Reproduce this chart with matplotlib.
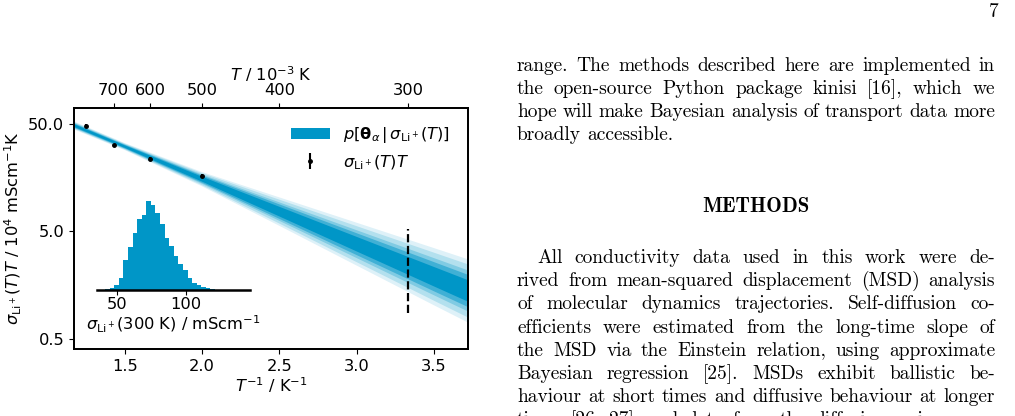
import numpy as np
import matplotlib
matplotlib.use("Agg")
import matplotlib.pyplot as plt
from matplotlib.transforms import IdentityTransform
from matplotlib.colors import to_rgb

W, H = 1015, 416

# measured sigma*T at 800, 700, 600, 500 K (units of 1e4 mS cm^-1 K)
temps = [800, 700, 600, 500]
sigma_T = [47.9, 31.6, 23.6, 16.3]
sigma_T_err = [1.6, 1.3, 0.9, 0.7]

# posterior band, read at a few 1/T positions (1e-3 K^-1)
band_x = [1.17, 1.5, 2.0, 2.5, 3.0, 3.5, 3.72]
band_mid = [48.9, 31.0, 15.4, 7.68, 3.82, 1.90, 1.40]
band_spread = [1.089, 1.079, 1.167, 1.358, 1.585, 1.849, 1.972]  # outer interval factor
band_levels = [1.0, 0.84, 0.65, 0.51, 0.34]
band_alpha = [0.13, 0.3, 0.5, 0.75, 1.0]

# extrapolated range at 300 K
pred_T = 300
pred_range = [0.87, 5.3]

top_T = [700, 600, 500, 400, 300]

# histogram of sigma(300 K), mS cm^-1
hist_counts = [3, 6, 15, 36, 90, 128, 172, 213, 224, 268, 255, 230,
               198, 156, 131, 100, 78, 58, 36, 20, 15, 9, 5, 3]
hist_edges = np.linspace(41.6, 120.8, len(hist_counts) + 1)

blue = '#0096c7'

plt.rcParams['font.size'] = 11.7
plt.rcParams['axes.linewidth'] = 1.3

fig = plt.figure(figsize=(W / 100, H / 100), dpi=100)

ax = fig.add_axes([74 / W, 1 - 349 / H, (468 - 74) / W, (349 - 108) / H])

base = to_rgb(blue)
bx = np.array(band_x)
mid = np.array(band_mid)
spread = np.array(band_spread)
band_handle = None
for lev, a in zip(band_levels, band_alpha):
    f = spread ** lev
    col = tuple(1 - a * (1 - c) for c in base)
    band_handle = ax.fill_between(bx, mid / f, mid * f, color=col, lw=0)
band_handle.set_label(r'$p[\mathbf{\theta}_\alpha\,|\,\sigma_{\mathrm{Li}^+}(T)]$')

eb = ax.errorbar(1000 / np.array(temps), sigma_T, yerr=sigma_T_err, fmt='o',
                 ms=2.5, color='k', elinewidth=1.5, capsize=0,
                 label=r'$\sigma_{\mathrm{Li}^+}(T)T$')
ax.vlines(1000 / pred_T, pred_range[0], pred_range[1], colors='k',
          linestyles='--', lw=1.6)

ax.set_yscale('log')
ax.set_xlim(1.172, 3.72)
ax.set_ylim(0.40, 70.5)
ax.set_yticks([0.5, 5, 50])
ax.set_yticklabels(['0.5', '5.0', '50.0'])
ax.yaxis.set_minor_locator(matplotlib.ticker.NullLocator())
ax.set_xticks([1.5, 2.0, 2.5, 3.0, 3.5])
ax.set_xticklabels(['1.5', '2.0', '2.5', '3.0', '3.5'])
ax.set_xlabel(r'$T^{-1}$ / K$^{-1}$', labelpad=1)
ax.set_ylabel(r'$\sigma_{\mathrm{Li}^+}(T)T$ / 10$^4$ mScm$^{-1}$K', labelpad=3)

ax.legend(handles=[band_handle, eb], loc='upper right', frameon=False,
          handlelength=2.4, bbox_to_anchor=(0.99, 0.99))

ax2 = ax.twiny()
ax2.set_xlim(ax.get_xlim())
ax2.set_xticks(1000 / np.array(top_T))
ax2.set_xticklabels([str(t) for t in top_T])
ax2.set_xlabel(r'$T$ / 10$^{-3}$ K', labelpad=2)

# inset histogram
ax_in = fig.add_axes([96.7 / W, 1 - 289.7 / H, (250 - 96.7) / W, 93 / H])
ax_in.patch.set_visible(False)
ax_in.bar(hist_edges[:-1], hist_counts, width=np.diff(hist_edges), align='edge',
          color=blue, lw=0)
for s in ['top', 'left', 'right']:
    ax_in.spines[s].set_visible(False)
ax_in.spines['bottom'].set_linewidth(1.8)
ax_in.set_yticks([])
ax_in.set_xlim(35.6, 146)
ax_in.set_ylim(0, 280)
ax_in.set_xticks([50, 100])
ax_in.tick_params(pad=2)
ax_in.set_xlabel(r'$\sigma_{\mathrm{Li}^+}$(300 K) / mScm$^{-1}$', labelpad=1)

# right-hand page text
col_left, col_right = 517, 995
body = dict(family=['cmr10', 'DejaVu Serif'], size=14)
renderer = fig.canvas.get_renderer()


def text_line(line, y, indent=0, justify=True, **kw):
    words = line.split()
    arts = [fig.text(0, 0, w, transform=IdentityTransform(), ha='left',
                     va='baseline', **kw) for w in words]
    widths = [t.get_window_extent(renderer).width for t in arts]
    x0 = col_left + indent
    gap = 6.0
    if justify and len(words) > 1:
        gap = (col_right - x0 - sum(widths)) / (len(words) - 1)
    x = x0
    for t, w in zip(arts, widths):
        t.set_position((x, H - y))
        x += w + gap


intro = ["range.  The methods described here are implemented in",
         "the open-source Python package kinisi [16], which we",
         "hope will make Bayesian analysis of transport data more",
         "broadly accessible."]
methods = ["All conductivity data used in this work were de-",
           "rived from mean-squared displacement (MSD) analysis",
           "of molecular dynamics trajectories.  Self-diffusion co-",
           "efficients were estimated from the long-time slope of",
           "the MSD via the Einstein relation, using approximate",
           "Bayesian regression [25].  MSDs exhibit ballistic be-",
           "haviour at short times and diffusive behaviour at longer",
           "times [26, 27], and data from the diffusive regime were"]

step = 23.15
for i, line in enumerate(intro):
    text_line(line, 70.7 + i * step, justify=(i < len(intro) - 1), **body)

fig.text((col_left + col_right) / 2, H - 211.7, 'METHODS', transform=IdentityTransform(),
         ha='center', va='baseline', family=['cmb10', 'DejaVu Serif'], size=15)

for i, line in enumerate(methods):
    text_line(line, 263.3 + i * 23.07, indent=20 if i == 0 else 0, **body)

fig.text(999, H - 17, '7', transform=IdentityTransform(), ha='right',
         va='baseline', **body)

fig.savefig('out.png', dpi=100)
